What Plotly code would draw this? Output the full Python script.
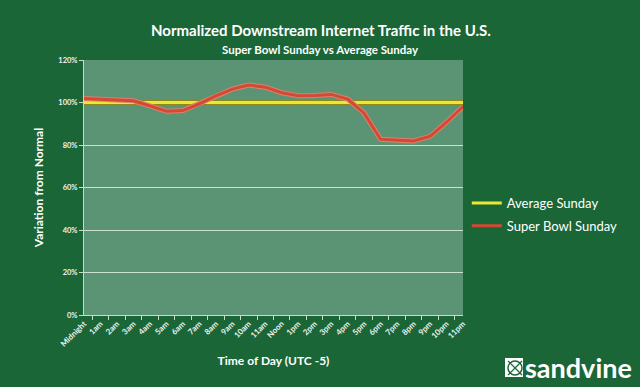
import plotly.graph_objects as go

hours = ["Midnight", "1am", "2am", "3am", "4am", "5am", "6am", "7am", "8am", "9am",
         "10am", "11am", "Noon", "1pm", "2pm", "3pm", "4pm", "5pm", "6pm", "7pm",
         "8pm", "9pm", "10pm", "11pm"]
average_sunday = [100] * 24
super_bowl_sunday = [101.9, 101.6, 101.3, 100.8, 98.4, 95.9, 96.2, 99.4, 103.1, 106.3,
                     108.2, 107.2, 104.6, 103.2, 103.3, 103.8, 101.6, 95.0, 82.7, 82.4,
                     81.9, 84.1, 90.7, 98.1]
y_ticks = [0, 20, 40, 60, 80, 100, 120]
y_tick_labels = ["0%", "20%", "40%", "60%", "80%", "100%", "120%"]

FONT = "Lato"
TXT = "#eef2ee"

W, H = 640, 387
l, r, t, b = 84, 177, 60, 72
pw, ph = W - l - r, H - t - b
def px(xp):
    return (xp - l) / pw
def py(yp):
    return (H - b - yp) / ph

fig = go.Figure()
fig.add_trace(go.Scatter(x=hours, y=average_sunday, mode="lines", name="Average Sunday",
                         legendgroup="avg", line=dict(color="#8c8a1e", width=5),
                         showlegend=False, hoverinfo="skip"))
fig.add_trace(go.Scatter(x=hours, y=average_sunday, mode="lines", name="Average Sunday",
                         legendgroup="avg", line=dict(color="#e9e832", width=3)))
fig.add_trace(go.Scatter(x=hours, y=super_bowl_sunday, mode="lines", name="Super Bowl Sunday",
                         legendgroup="sb", line=dict(color="#e0806a", width=5),
                         showlegend=False, hoverinfo="skip"))
fig.add_trace(go.Scatter(x=hours, y=super_bowl_sunday, mode="lines", name="Super Bowl Sunday",
                         legendgroup="sb", line=dict(color="#d24a35", width=3)))

fig.update_layout(
    width=W, height=H,
    margin=dict(l=l, r=r, t=t, b=b),
    paper_bgcolor="#1a6637",
    plot_bgcolor="#5b9474",
    font=dict(family=FONT, color=TXT),
    showlegend=True,
    legend=dict(x=1.01, y=py(188), xanchor="left", yanchor="top", bgcolor="rgba(0,0,0,0)",
                font=dict(size=13, color="#ffffff"), itemwidth=30, tracegroupgap=3,
                traceorder="grouped"),
    xaxis=dict(type="category", categoryorder="array", categoryarray=hours,
               tickangle=-45, tickfont=dict(size=8, color=TXT, weight="bold"),
               showline=True, linecolor="#c8d8cc", linewidth=1,
               ticks="outside", ticklen=4, tickcolor="#c8d8cc", tickson="boundaries",
               showgrid=False, zeroline=False,
               title=dict(text="Time of Day (UTC -5)", font=dict(size=12, color="#ffffff", weight="bold"),
                          standoff=8)),
    yaxis=dict(range=[0, 120], tickvals=y_ticks, ticktext=y_tick_labels,
               tickfont=dict(size=7.5, color=TXT, weight="bold"),
               showline=True, linecolor="#c8d8cc", linewidth=1,
               ticks="outside", ticklen=4, tickcolor="#c8d8cc",
               showgrid=True, gridcolor="rgba(230,242,234,0.8)", gridwidth=1, zeroline=False,
               title=dict(text="Variation from Normal", font=dict(size=12, color="#ffffff", weight="bold"),
                          standoff=12)),
    annotations=[
        dict(text="Normalized Downstream Internet Traffic in the U.S.", x=px(321), y=py(30),
             xref="paper", yref="paper", xanchor="center", yanchor="middle", showarrow=False,
             font=dict(size=15, color="#ffffff", weight="bold")),
        dict(text="Super Bowl Sunday vs Average Sunday", x=px(320), y=py(50),
             xref="paper", yref="paper", xanchor="center", yanchor="middle", showarrow=False,
             font=dict(size=11.5, color="#ffffff", weight="bold")),
        dict(text="sandvine", x=px(523), y=py(367), xref="paper", yref="paper",
             xanchor="left", yanchor="middle", showarrow=False,
             font=dict(size=27, color="#ffffff", weight="bold")),
    ],
)

# sandvine logo icon
fig.add_shape(type="rect", xref="paper", yref="paper", x0=px(505), x1=px(523), y0=py(377), y1=py(358),
              fillcolor="#ffffff", line=dict(width=0))
fig.add_shape(type="circle", xref="paper", yref="paper", x0=px(508), x1=px(522), y0=py(375), y1=py(361),
              fillcolor="rgba(0,0,0,0)", line=dict(color="#1a6637", width=1.5))
fig.add_shape(type="line", xref="paper", yref="paper", x0=px(508), x1=px(522), y0=py(375), y1=py(361),
              line=dict(color="#1a6637", width=1.2))
fig.add_shape(type="line", xref="paper", yref="paper", x0=px(508), x1=px(522), y0=py(361), y1=py(375),
              line=dict(color="#1a6637", width=1.2))

fig.write_html("out.html", config={"displayModeBar": False},
               post_script="document.body.style.margin='0';document.body.style.overflow='hidden';")
